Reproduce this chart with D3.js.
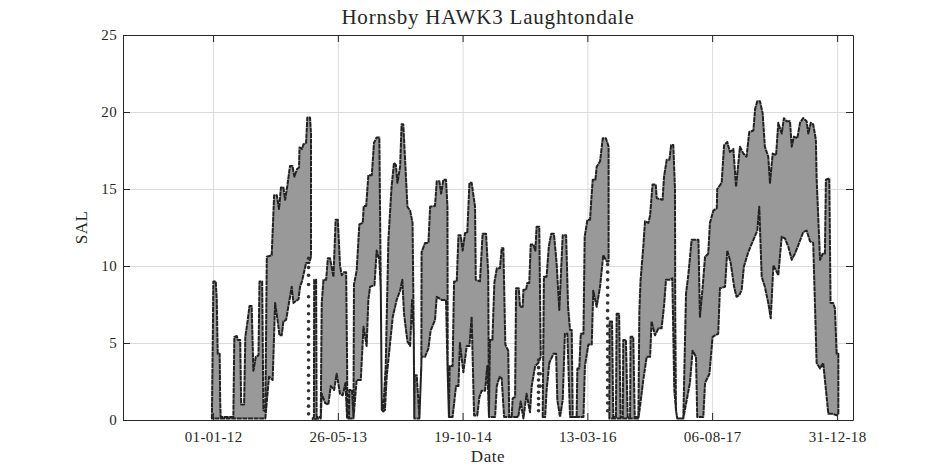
<!DOCTYPE html>
<html lang="en">
<head>
    <meta charset="UTF-8">
    <title>Hornsby HAWK3 Laughtondale</title>
    <script src="https://d3js.org/d3.v7.min.js"></script>
    <style>
        html, body{ margin: 0; padding: 0; background: #fff; }
        svg{ display: block; }
        text{ font-family: "Liberation Serif", serif; fill: #262626; }
        .grid line{ stroke: #dcdcdc; stroke-width: 1; }
        .grid path{ display: none; }
        .frame path, .frame line{ stroke: #262626; stroke-width: 1; }
        .frame text{ font-size: 15px; letter-spacing: 0.35px; }
    </style>
</head>
<body>
    <svg id="main-svg" width="945" height="472"></svg>

    <script>
        const title = 'Hornsby HAWK3 Laughtondale';
        const xName = 'Date';
        const yName = 'SAL';
        const xTickLabels = ['01-01-12', '26-05-13', '19-10-14', '13-03-16', '06-08-17', '31-12-18'];
        const yTicks = [0, 5, 10, 15, 20, 25];
        const firstDate = '01-01-12';

        // envelope of the salinity record: [days since first date, SAL]
        const upperEdge = [
            [-5,0.1],[-1,5.6],[1,9],[11,9],[15,7.8],[19,4.3],[27,4.3],[29,1.3],[31,0.2],[83,0.2],[87,5.4],[97,5.45],[101,5.2],[111,5.2],
            [115,1],[127,1],[132,5.4],[142,6.5],[149,7.4],[158,7.4],[165,3.2],[175,4.1],[186,4.2],[190,9],[201,9],[206,0.65],[214,0.55],
            [220,10.6],[240,10.7],[250,14.6],[261,14.6],[270,13.7],[278,15.1],[288,15.1],[295,14.3],[304,15.2],[315,16.5],[325,16.5],
            [333,15.8],[344,16.3],[352,16.4],[354,17.7],[364,17.6],[370,17.9],[381,18],[386,19.65],[397,19.65],[401,18.6],
            [408,0.1],[413,0.2],[414,9.1],[422,9.1],[424,0.2],[441,0.2],[445,7.6],[452,9.1],[463,9.1],[470,10.5],[479,10.5],[493,9.3],
            [502,13],[511,13],[520,10],[527,9.4],[536,9.6],[545,9.6],[549,3.5],[550,0.2],[557,0.2],[558,1.95],[569,1.95],[575,0.2],[577,8.8],
            [588,9.7],[599,12.7],[613,12.8],[617,13.9],[627,13.9],[636,15.9],[650,15.9],[659,18],[670,18.35],[681,18.35],[687,8.4],[691,0.65],
            [697,0.65],[707,3.5],[718,11.7],[731,15.15],[741,16.7],[749,16.55],[755,15.4],[766,16.45],[772,19.2],[779,19.2],[789,16.1],
            [796,13.85],[807,13.6],[817,12.8],[822,5.6],[824,0.2],[826,2.9],[834,2.9],[845,0.2],[853,3.5],[854,10.9],[868,11.5],[882,11.5],
            [889,13.85],[909,13.9],[916,15.5],[927,15.5],[934,14.7],[943,15.6],[954,15.6],[960,13.85],[961,3.5],[966,0.2],[969,3.5],[981,3.5],
            [987,9],[998,9],[1005,12],[1014,12],[1022,11],[1032,12.15],[1041,12.15],[1050,15.4],[1059,15.4],[1073,13.85],[1076,9.1],[1093,9],
            [1104,12.1],[1118,12.1],[1127,9.5],[1130,0.3],[1134,5.2],[1144,5.2],[1152,8.9],[1162,9.85],[1175,9.85],[1182,11.15],[1189,11.15],
            [1197,4.9],[1209,4.5],[1213,0.2],[1223,0.2],[1227,1.4],[1237,1.5],[1241,8.55],[1252,8.55],[1257,7.35],[1268,7.35],[1271,8.45],
            [1282,8.45],[1287,8.9],[1295,8.9],[1301,11.4],[1312,11.4],[1320,11],[1325,12.55],[1336,12.55],[1342,4.1],
            [1350,0.2],[1355,9.3],[1366,9.3],[1375,11.25],[1385,12.1],[1396,12.1],[1407,10.2],[1418,7.15],[1432,12],[1446,12],[1454,7.35],
            [1462,5.85],[1469,5.85],[1473,0.2],[1489,0.2],[1492,3.35],[1500,3.35],[1506,5.6],[1517,5.6],[1522,11.9],[1533,13],[1544,13],
            [1549,14.3],[1555,15.6],[1566,15.6],[1571,16.45],[1585,16.8],[1596,18.3],[1609,18.3],[1620,17.75],
            [1623,0.2],[1624,6.4],[1634,6.4],[1639,0.2],[1650,0.2],[1653,6.9],[1663,6.9],[1669,0.2],[1678,0.2],[1680,5.2],[1691,5.2],[1698,0.2],
            [1708,0.2],[1710,5.4],[1721,5.4],[1727,0.2],[1742,0.2],[1746,7.1],[1751,9.1],[1762,11.25],[1769,12.9],[1783,12.8],[1790,13.3],
            [1800,15.3],[1813,15.3],[1817,14.4],[1841,14.3],[1847,15.8],[1858,16.9],[1869,16.9],[1876,17.85],[1885,17.85],[1892,14.95],[1893,6.9],
            [1896,0.65],[1901,0.1],[1926,0.1],[1937,8.2],[1947,9.5],[1960,11.7],[1988,11.7],[1992,8.4],[1994,6.7],[2004,8.4],[2015,10.6],
            [2028,10.8],[2035,12.8],[2049,13.6],[2063,13.75],[2065,15],[2083,15.4],[2093,17.85],[2106,18.05],[2117,17.4],[2131,17.6],[2142,15.15],
            [2158,17.75],[2172,17.3],[2185,17.1],[2196,18.7],[2213,18.8],[2220,20.2],[2229,20.7],[2240,20.7],[2251,19.9],[2260,17.75],[2274,17.1],
            [2281,15.4],[2292,17.3],[2306,17.2],[2315,19.3],[2329,18.6],[2338,19.6],[2349,19.4],[2363,19.4],[2370,17.75],[2379,18.4],[2393,18.3],
            [2404,19.3],[2417,19.6],[2431,19.4],[2438,18.6],[2448,19.3],[2458,19.2],[2469,18.2],[2472,15.7],[2486,10.4],[2497,10.8],[2506,10.8],
            [2510,15.6],[2524,15.7],[2529,7.6],[2540,7.6],[2547,7.25],[2554,4.3],[2561,4.3]
        ];
        const lowerEdge = [
            [-5,0.1],[214,0.1],[229,2.8],[244,2.6],[254,7.6],[264,6.5],[272,5.5],[281,5.5],[288,6.4],[299,6.5],[313,7.8],[322,8.65],[329,7.6],
            [350,7.85],[356,8.65],[364,9],[381,10.2],[394,10.2],[401,10.6],
            [408,0.05],[441,0.1],[445,1.7],[459,1.1],[472,1],[482,2.2],[496,1.95],[506,3],[520,1.7],[531,1.6],[542,2.4],[549,0.1],[575,0.1],
            [588,2.6],[605,2.6],[616,6.05],[629,4.8],[636,7.8],[643,8.65],[661,8.75],[670,11],[681,10.4],[687,8.4],[691,0.65],[697,0.55],[704,0.65],
            [711,2.8],[725,5],[736,6.7],[752,7.8],[766,8.4],[775,9.1],[782,6.9],[796,5.1],[807,4.8],[815,7.8],[822,5.6],[824,0.1],[845,0.1],
            [854,4.1],[868,4.1],[882,4.65],[891,5.8],[909,6.5],[916,8],[936,7.8],[954,7.8],[960,3.5],[966,0.2],[981,0.2],[995,2.2],[1005,2.2],
            [1011,5],[1025,3.1],[1039,4.8],[1050,4.8],[1059,6.7],[1069,0.3],[1082,0.3],[1091,1.5],[1100,1.9],[1114,1.9],[1123,3.5],[1130,0.2],
            [1155,0.2],[1162,2.2],[1173,2.8],[1182,2.7],[1192,0.2],[1250,0.2],[1260,1.2],[1271,0.1],[1284,1.7],[1298,0.5],[1305,2.2],[1319,3.5],
            [1332,3.7],[1342,4.1],
            [1350,0.2],[1360,0.2],[1366,1.9],[1377,3.7],[1394,4.3],[1405,4.3],[1410,1.3],[1421,0.2],[1432,1.3],[1441,5.6],[1451,5.6],[1462,0.2],
            [1517,0.2],[1523,3.5],[1537,4.9],[1551,4.9],[1557,8.4],[1571,7.35],[1585,8.65],[1598,10.7],[1612,10.3],[1620,10.3],
            [1623,0.1],[1742,0.1],[1749,0.9],[1762,2.6],[1776,4.1],[1790,4.1],[1796,6.4],[1810,5.5],[1824,5.95],[1837,5.95],[1847,7.4],[1855,9.1],
            [1871,9.1],[1881,9.2],[1889,1.95],[1896,0.65],[1901,0.1],[1926,0.1],[1940,1.3],[1953,2.4],[1964,4.5],[1978,4.1],[1983,0.2],[2008,0.2],
            [2015,2.4],[2033,3],[2046,5.4],[2069,5.6],[2076,8.55],[2097,8.65],[2106,11],[2120,10.2],[2134,8.65],[2144,8],[2155,8.1],[2165,8.45],
            [2174,9.95],[2192,10.9],[2213,11.7],[2229,12.3],[2237,13.85],[2247,9.3],[2260,8.65],[2274,7.6],[2284,6.6],[2295,10.05],[2315,9.4],
            [2329,11.9],[2342,11.8],[2356,11.25],[2370,10.4],[2383,10.8],[2397,11.35],[2417,12.2],[2431,12.3],[2445,11.6],[2458,11.5],[2472,3.7],
            [2486,3.35],[2499,3.7],[2513,1.5],[2520,0.4],[2540,0.4],[2554,0.3],[2561,0.4]
        ];
        // the record has holes here, the envelope is not joined across them
        const breakDays = [404, 1346, 1622];
        // loose readings that sit below the envelope: [day, SAL]
        const looseDots = [
            [391,10.5],[391,9.9],[391,9.4],[391,8.8],[391,8],[391,7.4],[391,6.9],[391,6.4],[391,5.9],[391,5.4],[391,4.9],[391,4.4],[391,3.9],[391,3.4],[391,2.9],[391,2.4],[391,1.9],[391,1.4],[391,0.9],[391,0.4],
            [1333,3.9],[1333,3.4],[1333,3],[1333,2.6],[1340,3],[1333,2.2],[1340,2.2],[1333,1.8],[1333,1.4],[1333,1],[1333,0.6],
            [1616,10.1],[1616,9.6],[1616,9.1],[1616,8.6],[1616,8.1],[1616,7.6],[1616,7.1],[1616,6.6],[1616,6.1],[1616,5.6],[1616,5.1],[1616,4.6],[1616,4.1],[1616,3.6],[1616,3.1],[1616,2.6],[1616,2.1],[1616,1.6],[1616,1.1],[1616,0.6]
        ];

        const parseDate = d3.utcParse('%d-%m-%y');
        const start = parseDate(firstDate);
        const toDate = d => d3.utcDay.offset(start, d);

        const margin = {top: 35, right: 92, bottom: 52, left: 123};
        const width = 945 - margin.left - margin.right;
        const height = 472 - margin.top - margin.bottom;

        const xScale = d3.scaleUtc()
            .domain([toDate(-369), toDate(2621)])
            .range([0, width]);
        const yScale = d3.scaleLinear()
            .domain([0, 25])
            .range([height, 0]);

        const xTicks = xTickLabels.map(parseDate);
        const xFormat = d3.utcFormat('%d-%m-%y');

        let mSvg = d3.select('#main-svg');
        let plot = mSvg.append('g').attr('transform', `translate(${margin.left},${margin.top})`);

        // grid
        plot.append('g').attr('class', 'grid')
            .attr('transform', `translate(0,${height})`)
            .call(d3.axisBottom(xScale).tickValues(xTicks).tickSize(-height).tickFormat(''));
        plot.append('g').attr('class', 'grid')
            .call(d3.axisLeft(yScale).tickValues(yTicks).tickSize(-width).tickFormat(''));

        // envelope pieces between the holes
        const edges = [-Infinity, ...breakDays, Infinity];
        const line = d3.line().x(d => xScale(toDate(d[0]))).y(d => yScale(d[1]));

        d3.pairs(edges).forEach(([from, to]) => {
            const up = upperEdge.filter(d => d[0] >= from && d[0] < to);
            const low = lowerEdge.filter(d => d[0] >= from && d[0] < to);
            plot.append('path')
                .attr('d', line(up.concat(low.slice().reverse())) + 'Z')
                .attr('fill', '#999')
                .attr('stroke', '#222')
                .attr('stroke-width', 2)
                .attr('stroke-linejoin', 'round')
                .attr('stroke-dasharray', '5 0.6');
        });

        plot.append('g').selectAll('circle')
            .data(looseDots)
            .enter()
            .append('circle')
            .attr('cx', d => xScale(toDate(d[0])))
            .attr('cy', d => yScale(d[1]))
            .attr('r', 1.8)
            .attr('fill', '#333');

        // box with inward ticks on all four sides
        plot.append('g').attr('class', 'frame')
            .attr('transform', `translate(0,${height})`)
            .call(d3.axisBottom(xScale).tickValues(xTicks).tickSizeInner(-7).tickSizeOuter(0).tickPadding(11).tickFormat(xFormat));
        plot.append('g').attr('class', 'frame')
            .call(d3.axisTop(xScale).tickValues(xTicks).tickSizeInner(-7).tickSizeOuter(0).tickFormat(''));
        plot.append('g').attr('class', 'frame')
            .call(d3.axisLeft(yScale).tickValues(yTicks).tickSizeInner(-7).tickSizeOuter(0).tickPadding(6));
        plot.append('g').attr('class', 'frame')
            .attr('transform', `translate(${width},0)`)
            .call(d3.axisRight(yScale).tickValues(yTicks).tickSizeInner(-7).tickSizeOuter(0).tickFormat(''));
        plot.selectAll('.frame text').attr('fill', '#262626');

        mSvg.append('text')
            .attr('x', margin.left + width / 2)
            .attr('y', 24)
            .attr('text-anchor', 'middle')
            .style('font-size', '21px')
            .style('letter-spacing', '0.8px')
            .text(title);
        mSvg.append('text')
            .attr('x', margin.left + width / 2)
            .attr('y', 462)
            .attr('text-anchor', 'middle')
            .style('font-size', '17px')
            .style('letter-spacing', '0.6px')
            .text(xName);
        mSvg.append('text')
            .attr('transform', `translate(87,${margin.top + height / 2}) rotate(-90)`)
            .attr('text-anchor', 'middle')
            .style('font-size', '17px')
            .style('letter-spacing', '0.4px')
            .text(yName);
    </script>
</body>
</html>
